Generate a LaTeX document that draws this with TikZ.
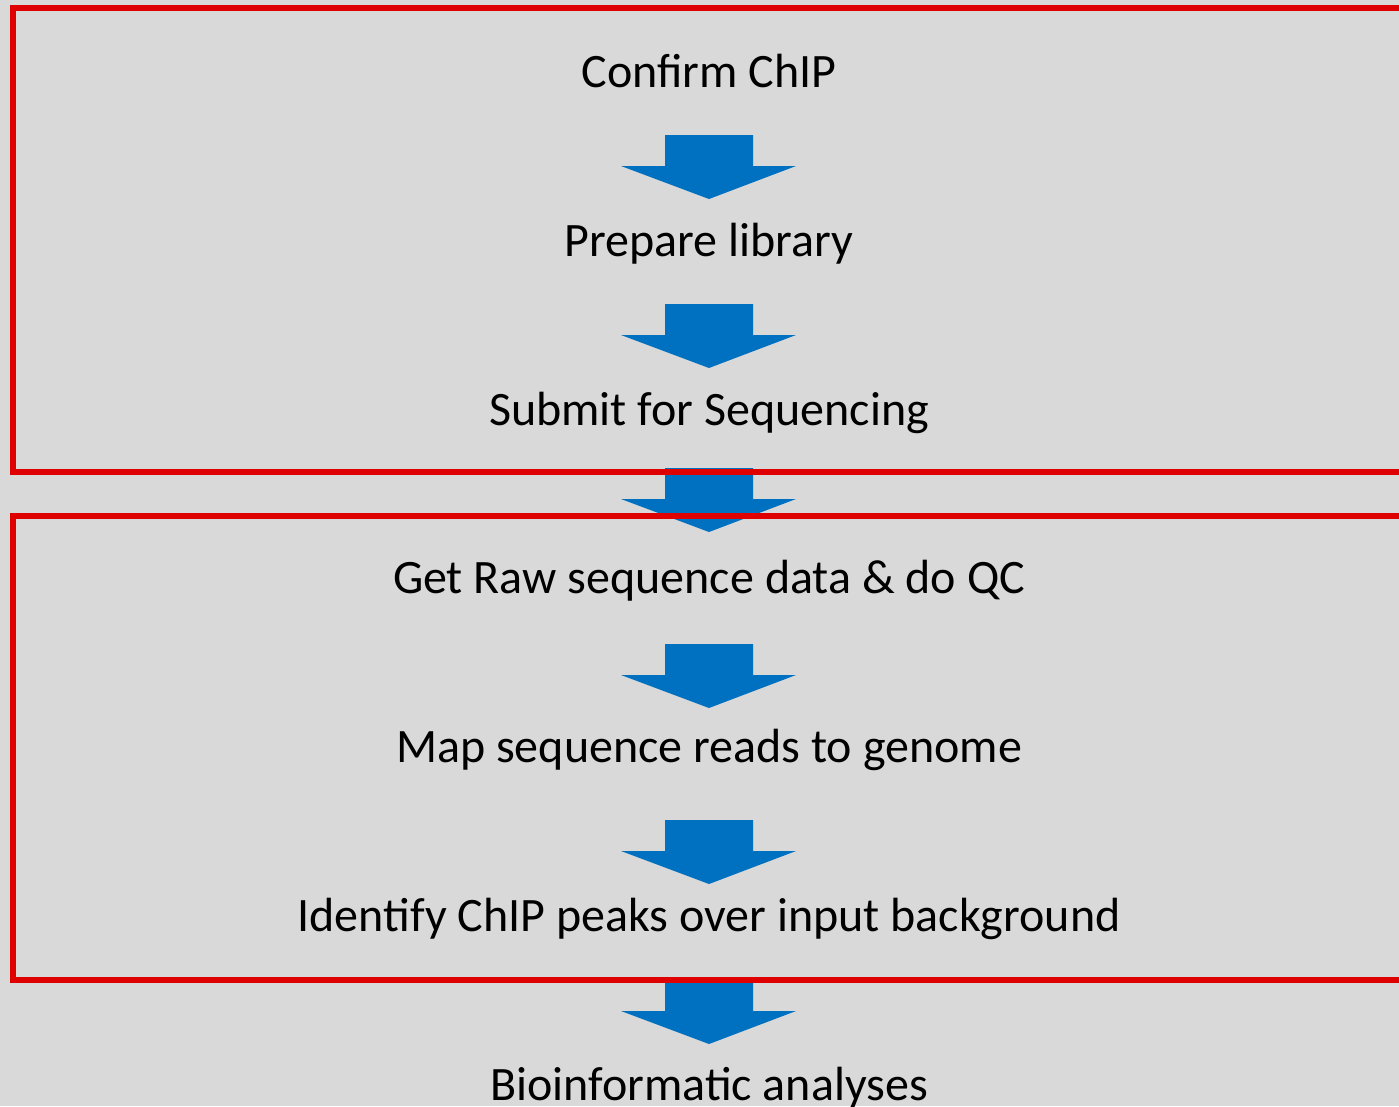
\documentclass[tikz,border=0pt]{standalone}
\usepackage{fontspec}
\setmainfont{Carlito}
\definecolor{bggray}{HTML}{D9D9D9}
\definecolor{boxred}{HTML}{DF0000}
\definecolor{arrowblue}{HTML}{0070C0}
\tikzset{
  stage/.style={anchor=base, inner sep=0pt, font=\fontsize{48}{58}\selectfont},
  blockarrow/.style={fill=arrowblue, draw=none},
  redbox/.style={draw=boxred, line width=6pt}
}
\begin{document}
\begin{tikzpicture}[x=1pt,y=-1pt]
\useasboundingbox (0,0) rectangle (1399,1106);
\fill[bggray] (0,0) rectangle (1399,1106);
% block arrows, given by their tips
\foreach \t in {199,368,532,708,884,1044}{
  \fill[blockarrow] (665,\t-64) -- (753,\t-64) -- (753,\t-33) -- (796,\t-33) -- (709,\t) -- (621,\t-33) -- (665,\t-33) -- cycle;
}
\draw[redbox] (13,8) rectangle (1410,472);\draw[redbox] (13,516) rectangle (1410,980);
\begin{scope}
  \node[stage] (confirm) at (709,87) {Confirm ChIP};
  \node[stage] (library) at (709,256) {Prepare library};
  \node[stage] (submit) at (709,425) {Submit for Sequencing};
  \node[stage] (rawqc) at (709,593) {Get Raw sequence data \& do QC};
  \node[stage] (mapreads) at (709,762) {Map sequence reads to genome};
  \node[stage] (peaks) at (709,931) {Identify ChIP peaks over input background};
  \node[stage] (bioinfo) at (709,1100) {Bioinformatic analyses};
\end{scope}
\end{tikzpicture}
\end{document}
